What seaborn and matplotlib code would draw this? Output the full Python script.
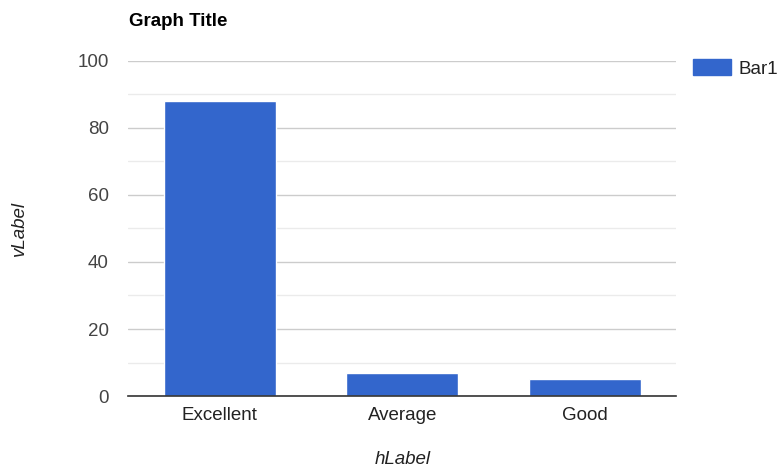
import pandas as pd
import matplotlib.pyplot as plt
import matplotlib.patches as mpatches
import seaborn as sns

# chart data
categories = ['Excellent', 'Average', 'Good']
bar1_values = [88, 7, 5]
y_ticks = [0, 20, 40, 60, 80, 100]

df = pd.DataFrame({'category': categories, 'Bar1': bar1_values})

sns.set_theme(style="white")
plt.rcParams['font.family'] = ['Liberation Sans', 'DejaVu Sans']

fig = plt.figure(figsize=(7.78, 4.67), dpi=100)
ax = fig.add_axes([0.165, 0.152, 0.704, 0.7175])

bar_color = '#3366CC'
sns.barplot(data=df, x='category', y='Bar1', color=bar_color, width=0.613,
            saturation=1, ax=ax, zorder=3)

ax.set_ylim(0, 100)
ax.set_xlim(-0.5, 2.5)
ax.set_yticks(y_ticks)
ax.set_yticks(range(10, 100, 20), minor=True)
ax.grid(axis='y', which='major', color='#cccccc', linewidth=1, zorder=0)
ax.grid(axis='y', which='minor', color='#ebebeb', linewidth=1, zorder=0)

for s in ['top', 'right', 'left']:
    ax.spines[s].set_visible(False)
ax.spines['bottom'].set_color('#333333')
ax.spines['bottom'].set_linewidth(1.2)
ax.spines['bottom'].set_zorder(4)

ax.tick_params(axis='y', which='both', length=0, pad=14, labelsize=13.5, labelcolor='#444444')
ax.tick_params(axis='x', length=0, pad=8, labelsize=13.5, labelcolor='#222222')

ax.set_xlabel('')
ax.set_ylabel('')
fig.text(403 / 778, 1 - 459 / 467, 'hLabel', fontsize=13.5, style='italic',
         color='#222222', ha='center', va='center')
fig.text(19 / 778, 1 - 228 / 467, 'vLabel', fontsize=13.5, style='italic',
         color='#222222', ha='center', va='center', rotation=90)

fig.text(129 / 778, 1 - 21 / 467, 'Graph Title', fontsize=13.5, fontweight='bold',
         color='#000000', ha='left', va='center')

handle = mpatches.Patch(color=bar_color, label='Bar1')
ax.legend(handles=[handle], loc='upper left', bbox_to_anchor=(1.031, 1.006), frameon=False,
          fontsize=13.5, handlelength=2.03, handleheight=0.96, handletextpad=0.42,
          labelcolor='#222222', borderaxespad=0, borderpad=0)

fig.savefig('out.png', dpi=100)
